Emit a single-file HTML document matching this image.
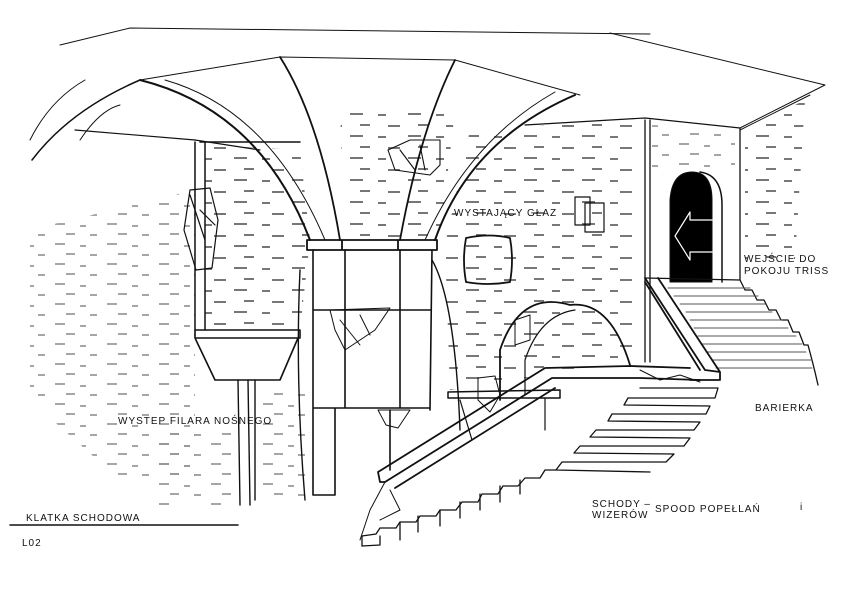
<!DOCTYPE html>
<html><head><meta charset="utf-8"><style>
html,body{margin:0;padding:0;background:#fff;}
svg{display:block}
text{font-family:"Liberation Sans",sans-serif;font-size:10px;fill:#111;letter-spacing:1px}
</style></head><body>
<svg width="850" height="601" viewBox="0 0 850 601" xmlns="http://www.w3.org/2000/svg">
<defs>
<pattern id="br" width="58" height="22" patternUnits="userSpaceOnUse">
<path d="M2 4h13M30 5h8M12 15h10M40 16h12" stroke="#222" stroke-width="1.7" fill="none"/>
</pattern>
<pattern id="br2" width="52" height="20" patternUnits="userSpaceOnUse">
<path d="M3 4h10M28 6h6M14 14h9M38 15h7" stroke="#333" stroke-width="1.3" fill="none"/>
</pattern>
</defs>
<g fill="none" stroke="#111" stroke-linecap="round" stroke-linejoin="round">
<g stroke="none" opacity="0.7">
<path d="M30 230 L195 190 L195 480 L120 480 L30 400Z" fill="url(#br2)"/>
<path d="M205 145 L300 150 L310 240 L300 330 L205 330Z" fill="url(#br)"/>
<path d="M340 110 L455 110 L440 240 L345 240Z" fill="url(#br)"/>
<path d="M470 130 L640 120 L640 360 L450 390 L445 245Z" fill="url(#br)"/>
<path d="M650 125 L735 130 L735 170 L650 175Z" fill="url(#br2)"/>
<path d="M745 130 L805 100 L795 260 L745 260Z" fill="url(#br)"/>
<path d="M255 390 L310 390 L310 500 L260 500Z" fill="url(#br2)"/>
<path d="M150 430 L235 430 L235 505 L150 505Z" fill="url(#br2)"/>
</g>
<path d="M60 45 L130 28 L650 34" stroke-width="1"/>
<path d="M610 33 L825 85 L740 128" stroke-width="1"/>
<path d="M140 80 L280 57 L455 60 L580 95" stroke-width="1"/>
<path d="M525 125 L645 118 L740 128" stroke-width="1.2"/>
<path d="M32 160 Q70 110 140 80" stroke-width="1.5"/>
<path d="M30 140 Q50 100 85 80" stroke-width="1"/>
<path d="M80 140 Q100 110 120 105" stroke-width="1"/>
<path d="M75 130 L195 140 L260 150" stroke-width="1.2"/>
<path d="M140 80 Q260 110 310 240" stroke-width="2"/>
<path d="M165 80 Q270 110 325 240" stroke-width="1"/>
<path d="M280 57 Q320 120 340 240" stroke-width="1.8"/>
<path d="M455 60 Q420 130 400 240" stroke-width="1.8"/>
<path d="M575 95 Q470 140 435 240" stroke-width="2"/>
<path d="M555 92 Q470 140 425 240" stroke-width="1"/>
<path d="M195 142 L195 330 M205 142 L205 330 M200 142 L300 142" stroke-width="1.5"/>
<path d="M195 330 L300 330 L300 338 L195 338Z M195 338 L215 380 L280 380 L298 338" stroke-width="1.6"/>
<path d="M238 380 L240 505 M248 380 L250 505 M255 380 L255 500" stroke-width="1.4"/>
<path d="M190 190 L210 188 L218 220 L212 268 L196 270 L184 230Z M190 195 L205 240 M200 210 L215 225" stroke-width="1.2"/>
<path d="M307 240 L437 240 L437 250 L307 250Z M342 240 L342 250 M398 240 L398 250" stroke-width="1.8"/>
<path d="M313 250 L313 495 L335 495 L335 408 M432 250 L430 410 M313 310 L430 310 M313 408 L430 408 M345 250 L345 408 M400 250 L400 408 M390 410 L390 470" stroke-width="1.6"/>
<path d="M300 270 Q295 380 305 500 M432 260 Q455 300 460 430" stroke-width="1.4"/>
<path d="M330 310 L390 308 L375 330 L345 350 L335 330Z M340 320 L360 345 M360 315 L370 335" stroke-width="1"/>
<path d="M378 410 L410 410 L398 428 L386 425Z" stroke-width="1"/>
<path d="M410 140 L440 140 L440 165 L430 175 L395 170 L388 150Z M400 150 L415 170 M420 145 L425 170" stroke-width="1.1"/>
<path d="M466 238 Q490 233 510 238 Q514 260 510 282 Q488 286 466 282 Q462 260 466 238Z" stroke-width="1.8"/>
<path d="M575 197 L590 197 L590 225 L575 225Z M585 203 L604 203 L604 232 L585 232Z" stroke-width="1.2"/>
<path d="M500 400 L500 350 Q520 290 570 305 Q610 300 630 365" stroke-width="1.8"/>
<path d="M525 395 L525 360 Q540 315 575 310" stroke-width="1.2"/>
<path d="M448 392 L560 390 L560 398 L448 398Z" stroke-width="1.5"/>
<path d="M460 400 L472 440 M545 398 L545 430" stroke-width="1.2"/>
<path d="M478 378 L495 376 L500 395 L490 412 L478 400Z" stroke-width="1"/>
<path d="M515 320 L530 315 L530 340 L515 345Z" stroke-width="1"/>
<path d="M645 120 L645 362 M650 120 L650 362 M740 128 L740 280" stroke-width="1.3"/>
<path d="M740 130 L810 95" stroke-width="1"/>
<path d="M670 282 L670 200 Q672 172 692 172 Q712 172 712 200 L712 282Z" fill="#000" stroke-width="1"/>
<path d="M700 172 Q722 175 722 205 L722 282" stroke-width="1.5"/>
<path d="M712 220 L690 220 L690 212 L675 236 L690 260 L690 252 L712 252" stroke="#fff" stroke-width="1.2"/>
<path d="M645 278 L740 280 L745 290 L752 290 L757 300 L764 300 L769 310 L776 310 L781 320 L788 320 L793 332 L799 332 L804 345 L808 345 L812 360 L815 372 L818 385" stroke-width="1.3"/>
<g stroke-width="0.9" stroke="#555">
<path d="M668 288h82M674 296h84M680 304h85M686 312h86M690 320h92M694 328h94M698 336h98M702 344h100M706 352h100M712 360h100M716 368h96"/>
</g>
<path d="M645 278 L705 370 L720 372 L720 380 L690 380 M658 278 L720 372 M645 282 L700 370" stroke-width="1.8"/>
<path d="M378 472 L545 368 L630 366 L690 368 M385 482 L552 378 L640 378 L700 380 M378 472 L380 482 L385 482 M395 488 L555 388" stroke-width="1.8"/>
<path d="M640 370 L660 380 L680 375 L700 382" stroke-width="1"/>
<g stroke-width="1.3">
<path d="M640 388 L718 388 L715 398 L628 398 L624 405 L710 406 L706 414 L612 414 L608 421 L700 422 L694 430 L596 430 L590 437 L690 438 L684 446 L580 446 L574 453 L674 454 L666 462 L562 462 L556 470 L650 472"/>
<path d="M556 470 L545 470 L540 478 L525 478 L518 486 L503 486 L498 494 L482 494 L478 502 L462 502 L456 510 L440 510 L436 516 L420 516 L416 522 L400 522 L396 528 L380 528 L376 534 L362 536 L362 546"/>
<path d="M362 546 L380 545 L380 536 M400 540 L400 522 M418 532 L418 516 M440 526 L440 510 M460 518 L460 502 M480 510 L480 494 M500 502 L500 486 M520 494 L520 480"/>
</g>
<path d="M385 482 L370 510 L360 540 M390 490 L400 510 L380 520" stroke-width="1"/>
<path d="M10 525 L238 525" stroke-width="1.6"/>
</g>
<text x="118" y="424" font-size="10">WYSTEP FILARA NOŚNEGO</text>
<text x="454" y="216" font-size="10">WYSTAJĄCY GŁAZ</text>
<text x="744" y="262" font-size="9">WEJŚCIE DO</text>
<text x="744" y="274" font-size="9">POKOJU TRISS</text>
<text x="755" y="411" font-size="10">BARIERKA</text>
<text x="592" y="507" font-size="9">SCHODY –</text>
<text x="592" y="518" font-size="9">WIZERÓW</text>
<text x="655" y="512" font-size="9">SPOOD POPEŁLAŃ</text>
<text x="800" y="510" font-size="9">i</text>
<text x="26" y="521" font-size="11">KLATKA  SCHODOWA</text>
<text x="22" y="546" font-size="12">L02</text>
</svg>
</body></html>
